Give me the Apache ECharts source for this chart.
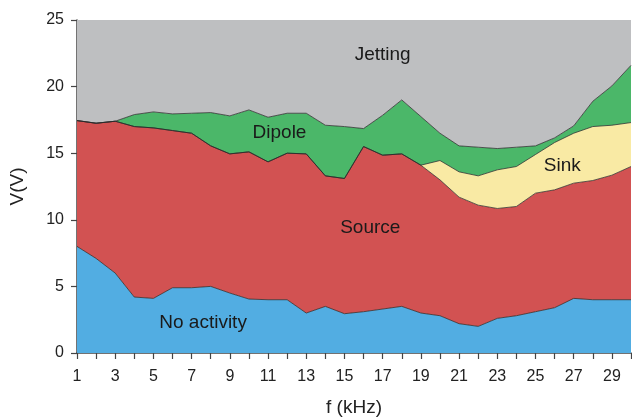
<!DOCTYPE html>
<html>
<head>
<meta charset="utf-8">
<script src="https://cdn.jsdelivr.net/npm/echarts@6/dist/echarts.min.js"></script>
<style>html,body{margin:0;padding:0;background:#fff;}#c{width:632px;height:417px;}</style>
</head>
<body>
<div id="c"></div>
<script>
const freqs = ['1','2','3','4','5','6','7','8','9','10','11','12','13','14','15','16','17','18','19','20','21','22','23','24','25','26','27','28','29','30'];
const noActivity = [8.0,7.1,6.0,4.2,4.1,4.9,4.9,5.0,4.5,4.05,4.0,4.0,3.0,3.5,2.95,3.1,3.3,3.5,3.0,2.8,2.2,2.0,2.6,2.8,3.1,3.4,4.1,4.0,4.0,4.0];
const source = [9.45,10.15,11.4,12.8,12.8,11.8,11.6,10.55,10.45,11.05,10.35,11.0,11.95,9.8,10.15,12.4,11.55,11.45,11.1,10.2,9.5,9.1,8.25,8.2,8.9,8.85,8.65,8.95,9.35,10.0];
const sink = [0,0,0,0,0,0,0,0,0,0,0,0,0,0,0,0,0,0,0,1.45,1.9,2.2,2.9,3.0,2.9,3.55,3.75,4.05,3.75,3.3];
const dipole = [0,0,0,0.9,1.2,1.25,1.5,2.5,2.85,3.15,3.35,3.0,3.05,3.8,3.9,1.35,3.0,4.05,3.65,2.05,1.95,2.15,1.6,1.45,0.65,0.35,0.55,1.9,2.95,4.3];
const jetting = [7.55,7.75,7.6,7.1,6.9,7.05,7.0,6.95,7.2,6.75,7.3,7.0,7.0,7.9,8.0,8.15,7.15,6.0,7.25,8.5,9.45,9.55,9.65,9.55,9.45,8.85,7.95,6.1,4.95,3.4];
const yTicks = [0,5,10,15,20,25];
const regionLabels = [
  {text:'Jetting', x:17.0, y:22.4},
  {text:'Dipole', x:11.6, y:16.5},
  {text:'Sink', x:26.4, y:14.05},
  {text:'Source', x:16.35, y:9.4},
  {text:'No activity', x:7.6, y:2.25}
];

const FONT = 'Liberation Sans, Arial, Helvetica, sans-serif';
function areaSeries(name, arr, color, showLine){
  return {
    name, type:'line', stack:'total', data: arr, symbol:'none', silent:true,
    lineStyle:{width: showLine?1:0, color:'rgba(40,40,40,0.75)'},
    areaStyle:{color, opacity:1},
    z: 2
  };
}
const chart = echarts.init(document.getElementById('c'), null, {renderer:'canvas'});
chart.setOption({
  animation:false,
  backgroundColor:'#fff',
  grid:{left:77, right:1, top:20, bottom:64, containLabel:false, outerBoundsMode:'none'},
  xAxis:{
    type:'category', data:freqs, boundaryGap:false,
    name:'f (kHz)', nameLocation:'middle', nameGap:45,
    nameTextStyle:{fontFamily:FONT, fontSize:19, color:'#222'},
    axisLine:{show:true, lineStyle:{color:'#444', width:1.5}},
    axisTick:{show:true, length:6, interval:0, lineStyle:{color:'#444', width:1.2}},
    axisLabel:{fontFamily:FONT, fontSize:16, color:'#222', margin:16, interval:1},
    splitLine:{show:false}
  },
  yAxis:{
    type:'value', min:yTicks[0], max:yTicks[yTicks.length-1], interval:5,
    name:'V(V)', nameLocation:'middle', nameGap:50, nameRotate:90,
    nameTextStyle:{fontFamily:FONT, fontSize:19, color:'#222'},
    axisLine:{show:true, lineStyle:{color:'#444', width:1.5}},
    axisTick:{show:true, length:6, lineStyle:{color:'#444', width:1.2}},
    axisLabel:{fontFamily:FONT, fontSize:16, color:'#222', margin:13},
    splitLine:{show:false}
  },
  series:[
    areaSeries('No activity', noActivity, '#52ade2', true),
    areaSeries('Source', source, '#d25252', true),
    areaSeries('Sink', sink, '#f9eaa4', true),
    areaSeries('Dipole', dipole, '#4bb769', true),
    areaSeries('Jetting', jetting, '#bebfc1', false)
  ]
});
const p0 = chart.convertToPixel({gridIndex:0}, [0, 0]);
const p1 = chart.convertToPixel({gridIndex:0}, [freqs.length - 1, 0]);
const g = regionLabels.map(l => {
  const px = p0[0] + (l.x - 1) / (freqs.length - 1) * (p1[0] - p0[0]);
  const py = chart.convertToPixel({yAxisIndex:0}, l.y);
  return {type:'text', x:px, y:py, z:100,
    style:{text:l.text, fill:'#1a1a1a', font:'19px '+FONT, align:'center', verticalAlign:'middle'}};
});
chart.setOption({graphic:g});
</script>
</body>
</html>
